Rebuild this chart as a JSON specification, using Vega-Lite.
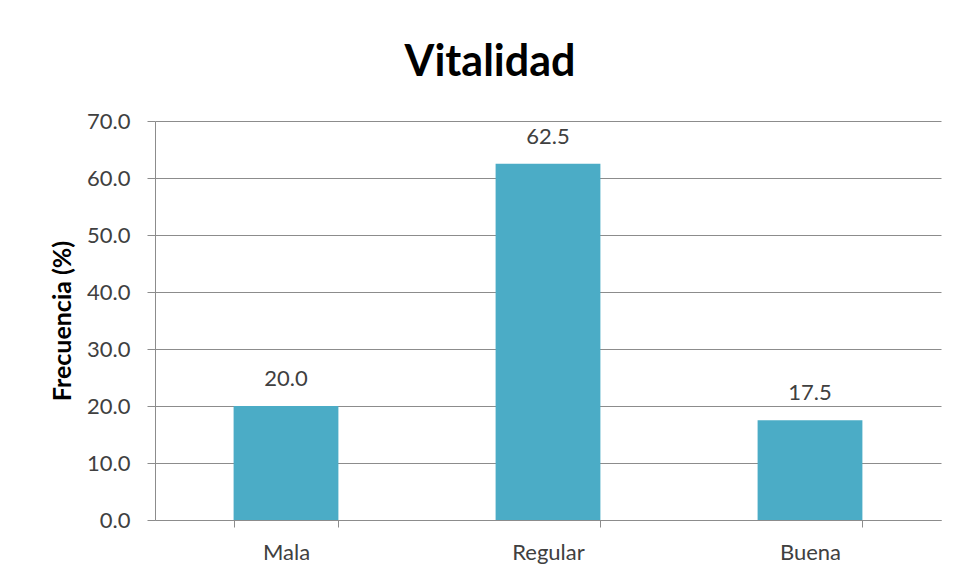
{
  "$schema": "https://vega.github.io/schema/vega-lite/v6.json",
  "autosize": "none",
  "width": 786,
  "height": 399,
  "padding": {"left": 155, "top": 121, "right": 19, "bottom": 63},
  "background": "white",
  "config": {"view": {"stroke": null}, "font": "Lato"},
  "title": {
    "text": "Vitalidad",
    "font": "Lato",
    "fontSize": 43,
    "fontWeight": "bold",
    "color": "#000000",
    "anchor": "middle",
    "frame": "group",
    "dx": -58,
    "offset": 25
  },
  "data": {
    "values": [
      {"categoria": "Mala", "frecuencia": 20.0},
      {"categoria": "Regular", "frecuencia": 62.5},
      {"categoria": "Buena", "frecuencia": 17.5}
    ]
  },
  "encoding": {
    "x": {
      "field": "categoria",
      "type": "nominal",
      "sort": null,
      "scale": {"paddingInner": 0.6, "paddingOuter": 0.3},
      "axis": {
        "title": null,
        "labelAngle": 0,
        "labelFont": "Lato",
        "labelFontSize": 22,
        "labelColor": "#404040",
        "labelPadding": 15,
        "tickBand": "extent",
        "tickSize": 7,
        "tickColor": "#8c8c8c",
        "domainColor": "#8c8c8c",
        "grid": false
      }
    },
    "y": {
      "field": "frecuencia",
      "type": "quantitative",
      "scale": {"domain": [0, 70], "nice": false},
      "axis": {
        "title": "Frecuencia (%)",
        "titleFont": "Lato",
        "titleFontSize": 25,
        "titleFontWeight": "bold",
        "titleColor": "#000000",
        "titlePadding": 11,
        "values": [0, 10, 20, 30, 40, 50, 60, 70],
        "format": ".1f",
        "labelFont": "Lato",
        "labelFontSize": 22,
        "labelColor": "#404040",
        "labelPadding": 17,
        "tickSize": 8,
        "tickColor": "#8c8c8c",
        "domainColor": "#8c8c8c",
        "gridColor": "#8c8c8c",
        "grid": true
      }
    }
  },
  "layer": [
    {"mark": {"type": "bar", "color": "#4BACC6"}},
    {
      "mark": {"type": "text", "dy": -15, "fontSize": 22, "color": "#404040", "font": "Lato", "baseline": "bottom"},
      "encoding": {"text": {"field": "frecuencia", "type": "quantitative", "format": ".1f"}}
    }
  ]
}
